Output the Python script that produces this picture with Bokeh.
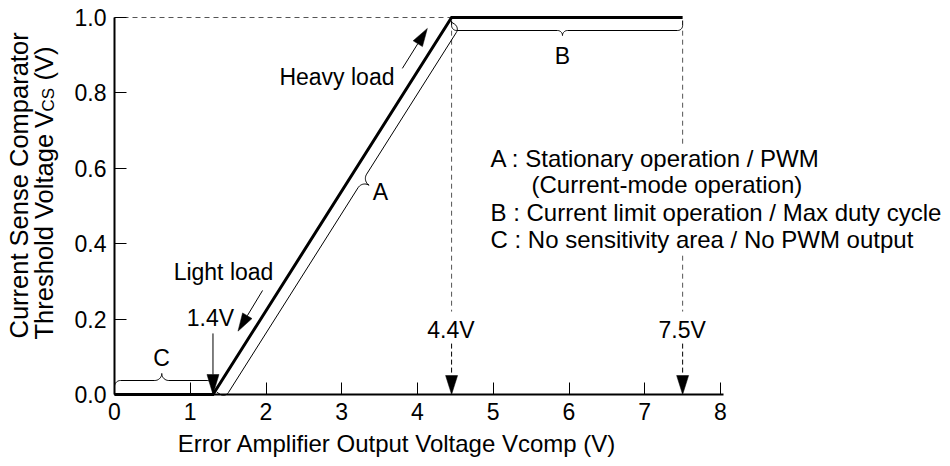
import numpy as np
from bokeh.plotting import figure
from bokeh.models import Label, FixedTicker, Range1d, PrintfTickFormatter
from bokeh.embed import file_html
from bokeh.resources import INLINE

# ---- data ----
vcomp = [0.0, 1.3, 4.45, 7.5]          # error amplifier output voltage (V)
vcs = [0.0, 0.0, 1.0, 1.0]             # current sense threshold (V)
x_ticks = [0, 1, 2, 3, 4, 5, 6, 7, 8]
y_ticks = [0.0, 0.2, 0.4, 0.6, 0.8, 1.0]
marker_x = [1.3, 4.45, 7.5]
marker_labels = ["1.4V", "4.4V", "7.5V"]
legend_lines = ["A : Stationary operation / PWM",
                "(Current-mode operation)",
                "B : Current limit operation / Max duty cycle",
                "C : No sensitivity area / No PWM output"]

FONT = "Liberation Sans"
W, H = 950, 466
KX, KY = 75.75, 377.0          # pixels per unit
X0 = -114.0 / KX
X1 = X0 + W / KX
Y1 = 394.0 / KY
Y0 = Y1 - H / KY

p = figure(frame_width=W, frame_height=H, x_range=Range1d(X0, X1), y_range=Range1d(Y0, Y1),
           output_backend="svg", toolbar_location=None,
           min_border_left=0, min_border_right=0, min_border_top=0, min_border_bottom=0)
p.outline_line_color = None
p.xgrid.grid_line_color = None
p.ygrid.grid_line_color = None
p.background_fill_color = "white"

for ax in (p.xaxis, p.yaxis):
    ax.fixed_location = 0
    ax.major_tick_in = 12
    ax.major_tick_out = 0
    ax.minor_tick_line_color = None
    ax.axis_line_width = 2
    ax.axis_line_color = "black"
    ax.major_tick_line_color = "black"
    ax.major_tick_line_width = 1
    ax.major_label_text_font = FONT
    ax.major_label_text_font_size = "23px"
    ax.major_label_text_color = "black"
p.xaxis.ticker = FixedTicker(ticks=x_ticks)
p.yaxis.ticker = FixedTicker(ticks=y_ticks)
p.yaxis.formatter = PrintfTickFormatter(format="%.1f")
p.yaxis.bounds = (0, 1)
p.xaxis.bounds = (0, 8.04)
p.xaxis.major_label_standoff = 8
p.yaxis.major_label_standoff = 8


def to_px(x, y):
    return np.asarray(x) * KX, np.asarray(y) * KY


def to_data(u, v):
    return np.asarray(u) / KX, np.asarray(v) / KY


def arc(cs, ch, r, th0, th1, n=12):
    th = np.linspace(th0, th1, n)
    return cs + r * np.cos(th), ch + r * np.sin(th)


def brace(x0, y0, x1, y1, sign, a, r, rt, f, b=2.0, inset=0.0):
    u0, v0 = to_px(x0, y0)
    u1, v1 = to_px(x1, y1)
    d = np.array([u1 - u0, v1 - v0])
    L = np.hypot(*d)
    t = d / L
    nrm = np.array([-t[1], t[0]]) * sign
    s0, s1 = inset, L - inset
    sm = s0 + f * (s1 - s0)
    S, Hh = [s0], [b]
    for cs, ch, rr, a0, a1 in [(s0 + r, a - r, r, np.pi, np.pi / 2),
                               (sm - rt, a + rt, rt, -np.pi / 2, 0),
                               (sm + rt, a + rt, rt, np.pi, 1.5 * np.pi),
                               (s1 - r, a - r, r, np.pi / 2, 0)]:
        ss, hh = arc(cs, ch, rr, a0, a1)
        S += list(ss); Hh += list(hh)
    S += [s1]; Hh += [b]
    S, Hh = np.array(S), np.array(Hh)
    U = u0 + S * t[0] + Hh * nrm[0]
    V = v0 + S * t[1] + Hh * nrm[1]
    xs, ys = to_data(U, V)
    p.line(xs, ys, line_color="black", line_width=1)


def arrow(xs, ys, xe, ye, head_len=19, head_w=12, dash="solid", width=1):
    us, vs = to_px(xs, ys)
    ue, ve = to_px(xe, ye)
    d = np.array([ue - us, ve - vs])
    t = d / np.hypot(*d)
    nrm = np.array([-t[1], t[0]])
    bu, bv = ue - head_len * t[0], ve - head_len * t[1]
    sx, sy = to_data([us, bu], [vs, bv])
    p.line(sx, sy, line_color="black", line_width=width, line_dash=dash)
    hu = [ue, bu + head_w / 2 * nrm[0], bu - head_w / 2 * nrm[0]]
    hv = [ve, bv + head_w / 2 * nrm[1], bv - head_w / 2 * nrm[1]]
    hx, hy = to_data(hu, hv)
    p.patch(list(hx), list(hy), fill_color="black", line_color="black", line_width=0.5)


def txt(x, y, s, size="23px", align="center", baseline="middle", angle=0.0, bg=None):
    p.add_layout(Label(x=x, y=y, text=s, text_font=FONT, text_font_size=size,
                       text_align=align, text_baseline=baseline, angle=angle,
                       text_color="black", background_fill_color=bg))


# guide dashed lines
p.segment(x0=[0.0], y0=[vcs[2]], x1=[vcomp[2]], y1=[vcs[2]],
          line_color="#555555", line_width=1, line_dash="5 4")
p.segment(x0=[vcomp[2], vcomp[3]], y0=[0.965, 0.965], x1=[vcomp[2], vcomp[3]], y1=[0.22, 0.22],
          line_color="#555555", line_width=1, line_dash="5 4")

# main characteristic
p.line(vcomp, vcs, line_color="black", line_width=3, line_join="miter")

# braces
brace(vcomp[0], 0.0, vcomp[1], 0.0, +1, a=14, r=6, rt=7, f=0.48, b=2)
brace(vcomp[1], 0.0, vcomp[2], 1.0, -1, a=12, r=6, rt=8, f=0.585, b=2, inset=4)
brace(vcomp[2], 1.0, vcomp[3], 1.0, -1, a=13, r=5, rt=5, f=0.48, b=3)

# marker arrows
arrow(marker_x[0], 0.162, marker_x[0], 0.0, head_len=20, head_w=12)
arrow(marker_x[1], 0.135, marker_x[1], 0.0, head_len=19, head_w=12, dash="5 3")
arrow(marker_x[2], 0.135, marker_x[2], 0.0, head_len=19, head_w=12, dash="5 3")
txt(1.267, 0.204, marker_labels[0])
txt(4.442, 0.172, marker_labels[1])
txt(7.494, 0.172, marker_labels[2])

# load arrows
arrow(3.80, 0.865, 4.13, 0.971, head_len=18, head_w=11)
arrow(1.955, 0.276, 1.63, 0.168, head_len=18, head_w=11)
txt(3.696, 0.841, "Heavy load", align="right")
txt(1.439, 0.324, "Light load")

# brace letters
txt(0.620, 0.098, "C")
txt(3.512, 0.536, "A")
txt(5.914, 0.899, "B")

# legend text
leg_y = [0.626, 0.557, 0.483, 0.411]
leg_x = [4.964, 5.505, 4.964, 4.964]
for lx, ly, s in zip(leg_x, leg_y, legend_lines):
    txt(lx, ly, s, size="24px", align="left", bg="white")

# axis titles
txt(3.776, -0.13, "Error Amplifier Output Voltage  Vcomp (V)", size="24px", baseline="alphabetic")
txt(-1.267, 0.1485, "Current Sense Comparator", size="25.5px", align="left", angle=np.pi / 2)
txt(-0.937, 0.146, "Threshold Voltage", size="25.5px", align="left", angle=np.pi / 2)
txt(-0.937, 0.7072, "V", size="25.5px", align="left", angle=np.pi / 2)
txt(-0.871, 0.7504, "CS", size="17px", align="left", angle=np.pi / 2)
txt(-0.937, 0.8326, "(V)", size="25.5px", align="left", angle=np.pi / 2)

open("out.html", "w").write(file_html(p, INLINE))
